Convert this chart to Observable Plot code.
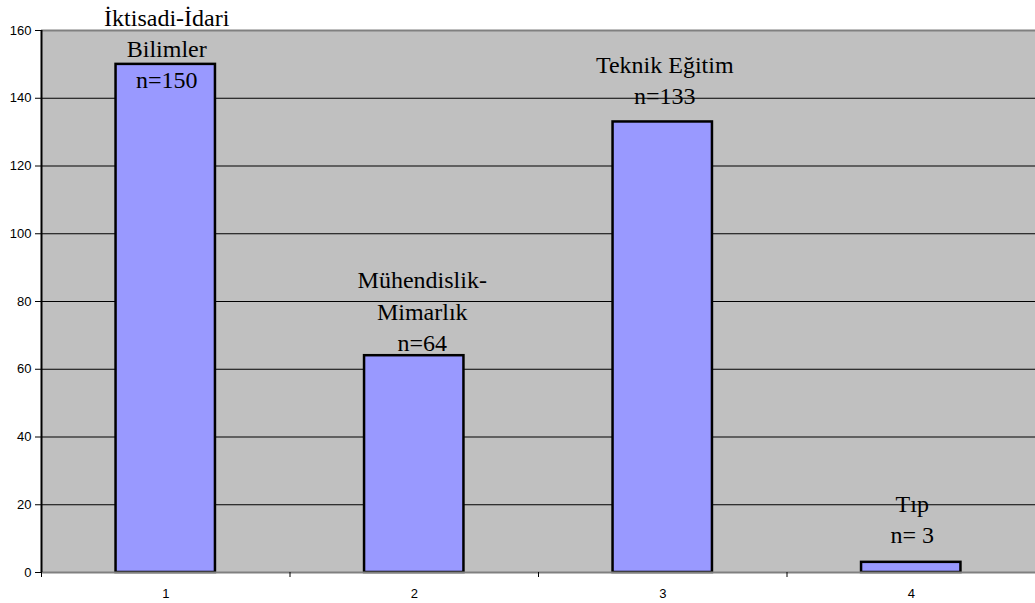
<!DOCTYPE html>
<html>
<head>
<meta charset="utf-8">
<script src="https://cdn.jsdelivr.net/npm/d3@7"></script>
<script src="https://cdn.jsdelivr.net/npm/@observablehq/plot@0.6"></script>
<style>
  html, body { margin: 0; padding: 0; background: #ffffff; }
</style>
</head>
<body>
<div id="chart"></div>
<script>
// Category positions on the x axis
const categories = [1, 2, 3, 4];
// Number of respondents per faculty
const counts = [150, 64, 133, 3];
// Faculty names shown above each bar
const faculties = ["İktisadi-İdari\nBilimler", "Mühendislik-\nMimarlık", "Teknik Eğitim", "Tıp"];
// Y axis tick values
const yTicks = [0, 20, 40, 60, 80, 100, 120, 140, 160];
// Boundaries between category slots on the x axis
const xBoundaries = [0.5, 1.5, 2.5, 3.5, 4.5];

const rows = categories.map((c, i) => ({
  cat: c,
  count: counts[i],
  label: `${faculties[i]}\nn=${String(counts[i]).padStart(2)}`
}));

// Per-bar nudges for the annotation blocks (pixels)
const labelNudge = {1: [1, 24], 2: [8, -5], 3: [2, -18], 4: [1, -19]};

const serif = "'Liberation Serif', 'Times New Roman', serif";

const chart = Plot.plot({
  width: 1035,
  height: 603,
  marginLeft: 41,
  marginRight: 0,
  marginTop: 30,
  marginBottom: 31,
  style: {background: "#ffffff", fontFamily: "'Liberation Sans', Arial, sans-serif", color: "#000"},
  x: {type: "linear", domain: [0.5, 4.5], axis: null},
  y: {domain: [0, 160], axis: null},
  marks: [
    Plot.frame({fill: "#c0c0c0", stroke: null}),
    Plot.ruleY(yTicks.filter(v => v > 0 && v < 160), {stroke: "#000", strokeWidth: 1}),
    Plot.ruleY([160], {stroke: "#808080", strokeWidth: 2}),
    Plot.rectY(rows, {
      x1: d => d.cat - 0.2,
      x2: d => d.cat + 0.2,
      y1: 0,
      y2: "count",
      fill: "#9999ff",
      stroke: "#000",
      strokeWidth: 2.5
    }),
    Plot.ruleY([0], {stroke: "#808080", strokeWidth: 2}),
    Plot.ruleX([0.5], {stroke: "#000", strokeWidth: 2}),
    Plot.axisY({
      ticks: yTicks,
      tickSize: 6,
      tickPadding: 4,
      fontSize: 13,
      stroke: "#000",
      fill: "#000",
      label: null
    }),
    Plot.axisX({
      ticks: xBoundaries,
      tickSize: 5,
      tickFormat: () => "",
      stroke: "#000",
      label: null
    }),
    Plot.axisX({
      ticks: categories,
      tickSize: 0,
      tickPadding: 16,
      tickFormat: d => String(d),
      fontSize: 13,
      fill: "#000",
      label: null
    }),
    ...rows.map(r => Plot.text([r], {
      x: "cat",
      y: "count",
      text: "label",
      lineAnchor: "bottom",
      lineHeight: 1.3,
      fontFamily: serif,
      fontSize: 24,
      fill: "#000",
      dx: labelNudge[r.cat][0],
      dy: labelNudge[r.cat][1]
    }))
  ]
});

document.getElementById("chart").appendChild(chart);
</script>
</body>
</html>
